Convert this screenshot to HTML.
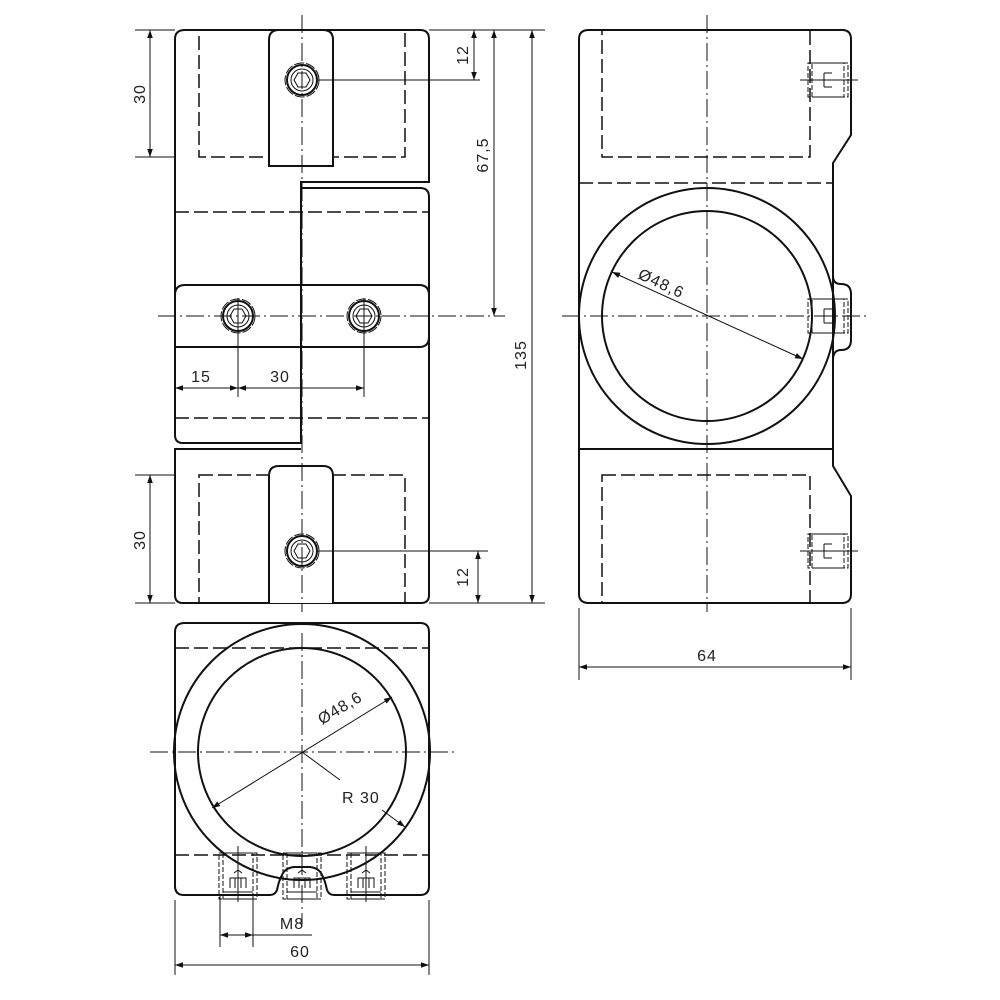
<!DOCTYPE html>
<html><head><meta charset="utf-8"><style>
html,body{margin:0;padding:0;background:#fff}
svg{display:block}
text{font-family:"Liberation Sans",sans-serif;font-size:16px;fill:#222;letter-spacing:1px}
.o{fill:none;stroke:#111;stroke-width:2}
.t{fill:none;stroke:#111;stroke-width:1}
.d{fill:none;stroke:#111;stroke-width:1.5;stroke-dasharray:14,5}
.c{fill:none;stroke:#111;stroke-width:1;stroke-dasharray:18,4,2,4}
</style></head><body>
<svg width="1000" height="1000" viewBox="0 0 1000 1000" xmlns="http://www.w3.org/2000/svg">
<defs>
<marker id="a" viewBox="0 0 10 10" refX="10" refY="5" markerWidth="12" markerHeight="8" orient="auto-start-reverse" markerUnits="userSpaceOnUse"><path d="M0,1.5 L10,5 L0,8.5 z" fill="#111"/></marker>
<g id="scr"><circle r="17" class="t" stroke-dasharray="10,2"/><circle r="15" class="o"/><circle r="11" class="t"/><polygon points="-8,0 -4,-7 4,-7 8,0 4,7 -4,7" class="t"/></g>
<g id="hs"><rect x="-20" y="-17" width="40" height="34" class="t" stroke-dasharray="5,2"/><rect x="-16" y="-17" width="32" height="34" class="t" stroke-dasharray="5,2"/><path d="M-4,-7 v14 M-4,-7 h8 M-4,7 h8 M-4,0 h10" class="t"/></g>
<g id="bs"><rect x="-19" y="-25" width="38" height="46" class="t" stroke-dasharray="5,2"/><rect x="-15" y="-25" width="30" height="46" class="t" stroke-dasharray="5,2"/><path d="M-8,10 v-10 h16 v10 M-3,10 v-10 M3,10 v-10 M-4,-5 l4,-3 l4,3 M-15,14 h30" class="t"/></g>
</defs>

<!-- FRONT VIEW -->
<path class="o" d="M185,30 H420 Q429,30 429,39 V182 H301 V443 H183 Q175,443 175,435 V39 Q175,30 185,30 Z"/>
<path class="o" d="M301,188 H420 Q429,188 429,197 V595 Q429,603 421,603 H183 Q175,603 175,595 V449 H301"/>
<rect class="d" x="199" y="30" width="206" height="127"/>
<rect class="d" x="199" y="475" width="206" height="128"/>
<line class="d" x1="175" y1="212" x2="429" y2="212"/>
<line class="d" x1="175" y1="418" x2="429" y2="418"/>
<path class="o" fill="#fff" style="fill:#fff" d="M269,166 V40 Q269,30 279,30 H323 Q333,30 333,40 V166 Z"/>
<path class="o" style="fill:#fff" d="M269,603 V476 Q269,466 279,466 H323 Q333,466 333,476 V603"/>
<path class="o" style="fill:#fff" d="M175,347 V295 Q175,285 185,285 H419 Q429,285 429,295 V337 Q429,347 419,347 Z"/>
<line class="o" x1="301" y1="285" x2="301" y2="347"/>
<use href="#scr" x="302" y="80"/><use href="#scr" x="302" y="551"/>
<use href="#scr" x="238" y="316"/><use href="#scr" x="364" y="316"/>
<line class="c" x1="302" y1="15" x2="302" y2="612"/>
<line class="c" x1="158" y1="316" x2="505" y2="316"/>
<line class="t" x1="238" y1="298" x2="238" y2="397"/>
<line class="t" x1="364" y1="298" x2="364" y2="397"/>
<line class="t" x1="175" y1="347" x2="175" y2="397"/>

<!-- dims front -->
<line class="t" x1="135" y1="30" x2="175" y2="30"/><line class="t" x1="135" y1="157" x2="175" y2="157"/>
<line class="t" x1="150" y1="30" x2="150" y2="157" marker-start="url(#a)" marker-end="url(#a)"/>
<text transform="translate(145,94) rotate(-90)" text-anchor="middle">30</text>
<line class="t" x1="429" y1="30" x2="545" y2="30"/>
<line class="t" x1="316" y1="80" x2="480" y2="80"/>
<line class="t" x1="474" y1="30" x2="474" y2="80" marker-start="url(#a)" marker-end="url(#a)"/>
<text transform="translate(468,55) rotate(-90)" text-anchor="middle">12</text>
<line class="t" x1="494" y1="30" x2="494" y2="316" marker-start="url(#a)" marker-end="url(#a)"/>
<text transform="translate(488,155) rotate(-90)" text-anchor="middle">67,5</text>
<line class="t" x1="429" y1="603" x2="545" y2="603"/>
<line class="t" x1="532" y1="30" x2="532" y2="603" marker-start="url(#a)" marker-end="url(#a)"/>
<text transform="translate(526,355) rotate(-90)" text-anchor="middle">135</text>
<line class="t" x1="175" y1="388" x2="364" y2="388" />
<line class="t" x1="175" y1="388" x2="238" y2="388" marker-start="url(#a)" marker-end="url(#a)"/>
<line class="t" x1="238" y1="388" x2="364" y2="388" marker-start="url(#a)" marker-end="url(#a)"/>
<text x="201" y="382" text-anchor="middle">15</text>
<text x="280" y="382" text-anchor="middle">30</text>
<line class="t" x1="135" y1="475" x2="175" y2="475"/><line class="t" x1="135" y1="603" x2="175" y2="603"/>
<line class="t" x1="150" y1="475" x2="150" y2="603" marker-start="url(#a)" marker-end="url(#a)"/>
<text transform="translate(145,540) rotate(-90)" text-anchor="middle">30</text>
<line class="t" x1="316" y1="551" x2="488" y2="551"/>
<line class="t" x1="478" y1="551" x2="478" y2="603" marker-start="url(#a)" marker-end="url(#a)"/>
<text transform="translate(468,577) rotate(-90)" text-anchor="middle">12</text>

<!-- SIDE VIEW -->
<path class="o" d="M589,30 H842 Q851,30 851,39 V135 L833,163 V276 Q833,284 841,284 Q851,284 851,294 V340 Q851,350 841,350 Q833,350 833,360 V466 L851,496 V594 Q851,603 842,603 H589 Q579,603 579,594 V39 Q579,30 589,30 Z"/>
<line class="d" x1="579" y1="183" x2="833" y2="183"/>
<line class="o" x1="579" y1="449" x2="833" y2="449"/>
<rect class="d" x="602" y="30" width="208" height="127"/>
<rect class="d" x="602" y="475" width="208" height="128"/>
<circle class="o" cx="707" cy="316" r="128" style="fill:#fff"/>
<circle class="o" cx="707" cy="316" r="105"/>
<path class="o" d="M833,276 V360" />
<use href="#hs" x="828" y="80"/><use href="#hs" x="828" y="316"/><use href="#hs" x="828" y="551"/>
<line class="t" x1="800" y1="80" x2="858" y2="80"/><line class="t" x1="800" y1="551" x2="858" y2="551"/>
<line class="c" x1="707" y1="15" x2="707" y2="612"/>
<line class="c" x1="562" y1="316" x2="868" y2="316"/>
<line class="t" x1="612" y1="272" x2="803" y2="359" marker-start="url(#a)" marker-end="url(#a)"/>
<text transform="translate(637,278) rotate(25)">Ø48,6</text>
<line class="t" x1="579" y1="608" x2="579" y2="680"/><line class="t" x1="851" y1="608" x2="851" y2="680"/>
<line class="t" x1="579" y1="667" x2="851" y2="667" marker-start="url(#a)" marker-end="url(#a)"/>
<text x="707" y="661" text-anchor="middle">64</text>

<!-- BOTTOM VIEW -->
<path class="o" d="M185,623 H420 Q429,623 429,632 V886 Q429,895 420,895 H334 Q329,895 327,890 Q325,880 322,875 Q319,868 310,867 H294 Q285,868 282,875 Q279,880 277,890 Q275,895 270,895 H184 Q175,895 175,886 V632 Q175,623 185,623 Z"/>
<line class="d" x1="175" y1="648" x2="429" y2="648"/>
<line class="d" x1="175" y1="855" x2="429" y2="855"/>
<circle class="o" cx="302" cy="752" r="128"/>
<circle class="o" cx="302" cy="752" r="104"/>
<use href="#bs" x="238" y="878"/><use href="#bs" x="302" y="878"/><use href="#bs" x="366" y="878"/>
<line class="c" x1="302" y1="633" x2="302" y2="925"/>
<line class="c" x1="150" y1="752" x2="455" y2="752"/>
<line class="t" x1="238" y1="846" x2="238" y2="902"/><line class="t" x1="366" y1="846" x2="366" y2="902"/>
<line class="t" x1="212" y1="808" x2="392" y2="697" marker-start="url(#a)" marker-end="url(#a)"/>
<text transform="translate(322,725) rotate(-31)">Ø48,6</text>
<line class="t" x1="302" y1="752" x2="340" y2="780"/>
<line class="t" x1="382" y1="810" x2="405" y2="827" marker-end="url(#a)"/>
<text x="342" y="803">R 30</text>
<line class="t" x1="220" y1="895" x2="220" y2="947"/><line class="t" x1="253" y1="895" x2="253" y2="947"/>
<line class="t" x1="220" y1="935" x2="253" y2="935" marker-start="url(#a)" marker-end="url(#a)"/>
<line class="t" x1="253" y1="935" x2="312" y2="935"/>
<text x="292" y="929" text-anchor="middle">M8</text>
<line class="t" x1="175" y1="900" x2="175" y2="975"/><line class="t" x1="429" y1="900" x2="429" y2="975"/>
<line class="t" x1="175" y1="965" x2="429" y2="965" marker-start="url(#a)" marker-end="url(#a)"/>
<text x="300" y="957" text-anchor="middle">60</text>
</svg>
</body></html>
